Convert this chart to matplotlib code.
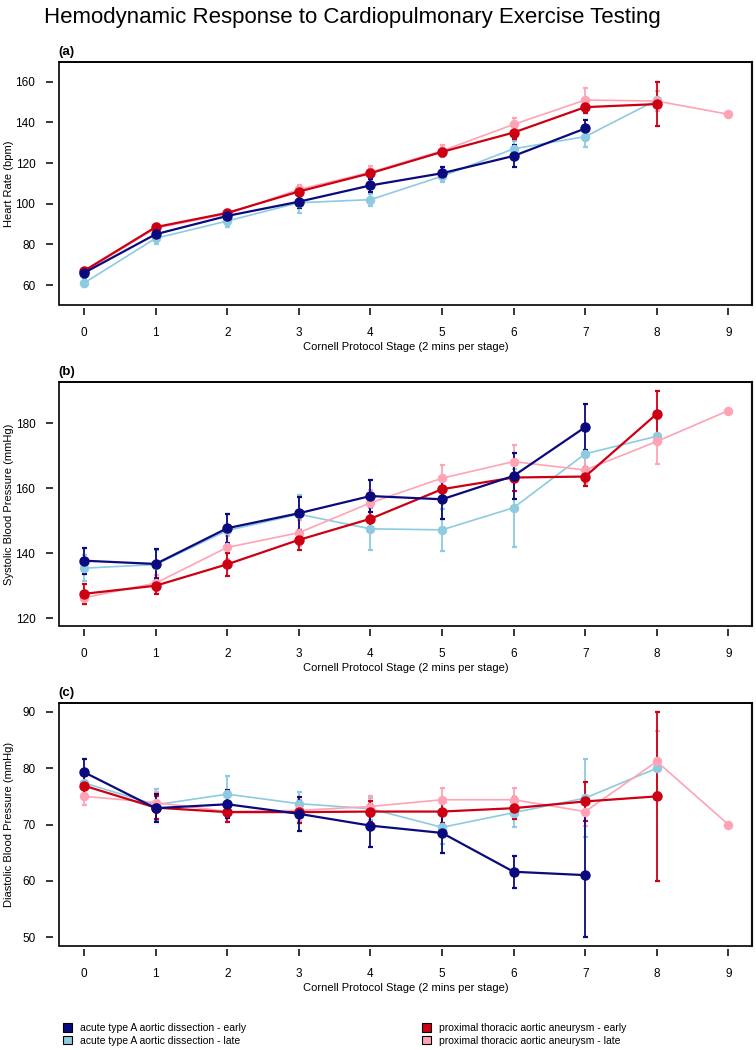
import numpy as np
import matplotlib
matplotlib.use("Agg")
import matplotlib.pyplot as plt
from matplotlib.patches import Patch, Rectangle

plt.rcParams["font.family"] = ["Liberation Sans", "DejaVu Sans"]

# ---------------- data ----------------
stages = [0, 1, 2, 3, 4, 5, 6, 7, 8, 9]

series_names = ["acute type A aortic dissection - early",
                "acute type A aortic dissection - late",
                "proximal thoracic aortic aneurysm - early",
                "proximal thoracic aortic aneurysm - late"]
series_colors = ["#0a0a7e", "#8ccbe0", "#cc0012", "#ffa3b5"]

# heart rate (bpm)
hr_ad_early = [66, 85, 94, 101, 109, 115, 123.5, 137]
hr_ad_early_err = [2, 2, 2, 3, 3, 3, 5.5, 4]
hr_ad_late = [61, 83, 91.5, 100.5, 102, 113.5, 127, 133, 151]
hr_ad_late_err = [2, 3, 3, 5, 3, 3, 4, 5, 0]
hr_pta_early = [67, 88.5, 95.5, 106, 115, 125.5, 135, 147.5, 149]
hr_pta_early_err = [1.5, 1.5, 1.5, 2, 2, 2, 3, 3, 11]
hr_pta_late = [66.5, 88, 95, 107, 115.5, 126, 139, 151, 150.5, 144]
hr_pta_late_err = [1.5, 1.5, 1.5, 2, 3, 3, 3, 6, 5, 0]

# systolic blood pressure (mmHg)
sbp_ad_early = [137.7, 136.7, 147.7, 152.3, 157.6, 156.6, 163.8, 178.8]
sbp_ad_early_err = [4, 4.5, 4.5, 5, 5, 6, 7, 7]
sbp_ad_late = [135.4, 136.5, 147, 152, 147.5, 147.2, 154, 170.6, 176]
sbp_ad_late_err = [4, 4.5, 5, 6, 6.5, 6.5, 12, 8, 0]
sbp_pta_early = [127.5, 130, 136.6, 144.1, 150.6, 159.7, 163.3, 163.6, 182.9]
sbp_pta_early_err = [3, 2.5, 3.5, 3, 3.5, 4, 4, 3, 7]
sbp_pta_late = [126.3, 130.8, 141.8, 146.3, 155.5, 163.1, 168.2, 165.6, 174.4, 183.9]
sbp_pta_late_err = [2, 2.5, 3.5, 4, 4, 4, 5, 4, 7, 0]

# diastolic blood pressure (mmHg)
dbp_ad_early = [79.3, 72.9, 73.6, 71.9, 69.8, 68.5, 61.6, 61]
dbp_ad_early_err = [2.3, 2.5, 2.5, 3, 3.8, 3.5, 2.8, 11]
dbp_ad_late = [77.4, 73.5, 75.4, 73.7, 72.8, 69.5, 72.1, 74.7, 80]
dbp_ad_late_err = [2, 2.8, 3.2, 2, 2, 3, 2.5, 7, 0]
dbp_pta_early = [76.9, 73, 72.2, 72.2, 72.3, 72.3, 72.9, 74.1, 75]
dbp_pta_early_err = [2, 2, 1.8, 2, 1.8, 2, 2, 3.5, 15]
dbp_pta_late = [75, 73.9, 72.3, 72.5, 73.2, 74.4, 74.4, 72.3, 81.2, 70]
dbp_pta_late_err = [1.5, 1.8, 1.8, 1.8, 1.8, 2, 2, 2.5, 5.5, 0]

panels = [
    ("(a)", "Heart Rate (bpm)", (50.2, 169.7), [60, 80, 100, 120, 140, 160],
     [(hr_ad_early, hr_ad_early_err), (hr_ad_late, hr_ad_late_err),
      (hr_pta_early, hr_pta_early_err), (hr_pta_late, hr_pta_late_err)]),
    ("(b)", "Systolic Blood Pressure (mmHg)", (117.6, 192.7), [120, 140, 160, 180],
     [(sbp_ad_early, sbp_ad_early_err), (sbp_ad_late, sbp_ad_late_err),
      (sbp_pta_early, sbp_pta_early_err), (sbp_pta_late, sbp_pta_late_err)]),
    ("(c)", "Diastolic Blood Pressure (mmHg)", (48.4, 91.6), [50, 60, 70, 80, 90],
     [(dbp_ad_early, dbp_ad_early_err), (dbp_ad_late, dbp_ad_late_err),
      (dbp_pta_early, dbp_pta_early_err), (dbp_pta_late, dbp_pta_late_err)]),
]

# ---------------- figure ----------------
fig = plt.figure(figsize=(7.56, 10.5), dpi=100)
W, H = 756, 1050
ax_left, ax_right = 59, 752
ax_tops = [62, 382, 703]
ax_bottoms = [305, 626, 946]

draw_order = [1, 3, 2, 0]  # light blue, pink, red, dark blue on top
line_w = [1.6, 1.2, 1.6, 1.2]
mark_s = [6.5, 5.8, 6.5, 5.8]

for i, (tag, ylab, ylim, yticks, series) in enumerate(panels):
    top, bot = ax_tops[i], ax_bottoms[i]
    ax = fig.add_axes([ax_left / W, 1 - bot / H, (ax_right - ax_left) / W, (bot - top) / H])

    for j, k in enumerate(draw_order):
        vals, errs = series[k]
        x = stages[:len(vals)]
        ax.errorbar(x, vals, yerr=errs, fmt="none", ecolor=series_colors[k],
                    elinewidth=1.3, capsize=1.8, capthick=1.6, zorder=2 + j)
        ax.plot(x, vals, color=series_colors[k], lw=line_w[k], marker="o",
                ms=mark_s[k], zorder=6 + j)

    ax.set_xlim(-0.35, 9.33)
    ax.set_ylim(*ylim)
    ax.set_xticks(stages)
    ax.set_yticks(yticks)

    # R-style axes: ticks detached from the box
    for side in ["left", "bottom"]:
        ax.spines[side].set_color("none")
    ax.spines["left"].set_position(("outward", 4))
    ax.spines["bottom"].set_position(("outward", 2))
    ax.spines["top"].set_linewidth(1.2)
    ax.spines["right"].set_linewidth(1.6)
    ax.spines["right"].set_color("#555555")
    ax.add_patch(Rectangle((0, 0), 1, 1, transform=ax.transAxes, fill=False,
                           lw=1.2, ec="black", clip_on=False, zorder=20))

    ax.tick_params(axis="both", direction="out", length=5, width=1.1, labelsize=8.5,
                   color="black")
    ax.tick_params(axis="x", pad=9)
    ax.tick_params(axis="y", pad=8)

    ax.set_ylabel(ylab, fontsize=8)
    ax.yaxis.set_label_coords(-0.065, 0.5)
    ax.set_xlabel("Cornell Protocol Stage (2 mins per stage)", fontsize=8)
    ax.xaxis.set_label_coords(0.5, -0.152)

    ax.text(-0.001, 1 + 10 / (bot - top), tag, transform=ax.transAxes,
            ha="left", va="center", fontsize=9.5, fontweight="bold")

fig.text(352 / W, 1 - 18 / H, "Hemodynamic Response to Cardiopulmonary Exercise Testing",
         ha="center", va="center", fontsize=16)

# legend
handles = [Patch(facecolor=c, edgecolor="black", lw=0.8) for c in series_colors]
leg_kw = dict(loc="upper left", frameon=False, fontsize=7.5, handlelength=0.9,
              handleheight=0.9, handletextpad=0.7, labelspacing=0.25, borderpad=0,
              borderaxespad=0)
fig.legend(handles[:2], series_names[:2], bbox_to_anchor=(63 / W, 1 - 1023 / H), **leg_kw)
fig.legend(handles[2:], series_names[2:], bbox_to_anchor=(422 / W, 1 - 1023 / H), **leg_kw)

fig.savefig("out.png", dpi=100)
